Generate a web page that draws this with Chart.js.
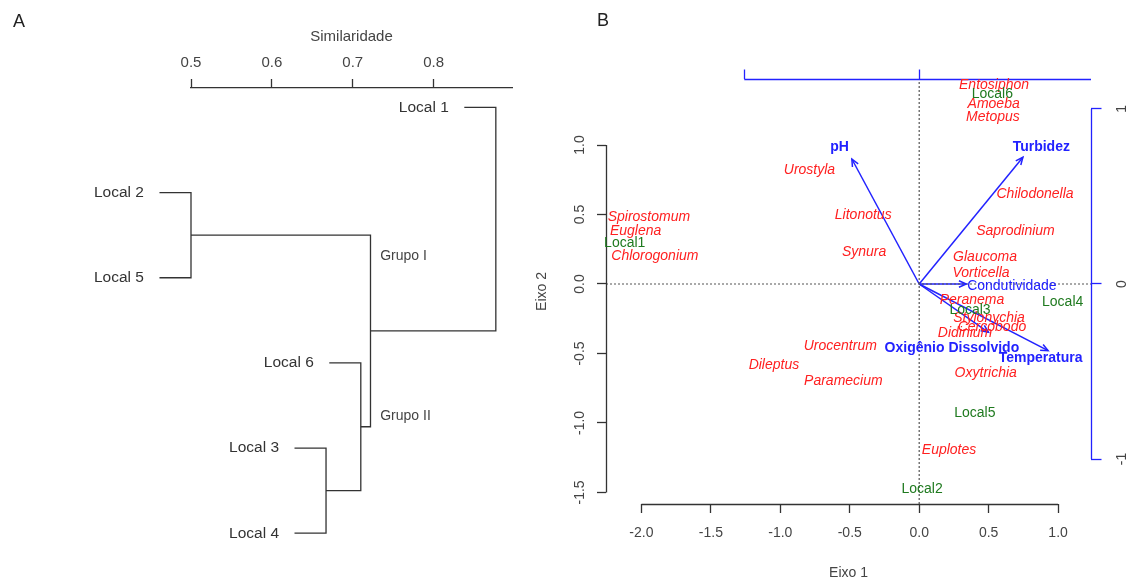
<!DOCTYPE html>
<html><head><meta charset="utf-8">
<script src="https://cdn.jsdelivr.net/npm/chart.js@4.4.1/dist/chart.umd.min.js"></script>
<style>
html,body{margin:0;padding:0;background:#fff;overflow:hidden}
#wrap{position:relative;width:1128px;height:583px;background:#fff}
canvas{position:absolute;top:0}
#ca{left:0}
#cb{left:520px}
</style></head><body>
<div id="wrap"><canvas id="ca" width="520" height="583"></canvas><canvas id="cb" width="608" height="583"></canvas></div>
<script>
// ================= Panel A : dendrogram data =================
const leafLabels = ['Local 1', 'Local 2', 'Local 5', 'Local 6', 'Local 3', 'Local 4'];
// merge table (R hclust style): negative = leaf (1-based), positive = earlier merge (1-based)
const mergeA = [-2, -5, -4, 1, -1];
const mergeB = [-3, -6, 2, 3, 4];
const mergeHeight = [0.500, 0.667, 0.710, 0.722, 0.877];
const leafHang = 0.039;
const simTicks = [0.5, 0.6, 0.7, 0.8];
const groupLabels = ['Grupo I', 'Grupo II'];
const groupX = [0.734, 0.734];
const groupY = [1.751, 3.631];

// ================= Panel B : CCA biplot data =================
const speciesNames = ['Entosiphon', 'Amoeba', 'Metopus', 'Urostyla', 'Chilodonella', 'Litonotus',
  'Saprodinium', 'Spirostomum', 'Euglena', 'Chlorogonium', 'Synura', 'Glaucoma', 'Vorticella',
  'Peranema', 'Stylonychia', 'Cercobodo', 'Didinium', 'Urocentrum', 'Dileptus', 'Paramecium',
  'Oxytrichia', 'Euplotes'];
const speciesX = [0.539, 0.536, 0.531, -0.790, 0.834, -0.403, 0.693, -1.946, -2.042, -1.903, -0.397,
  0.474, 0.445, 0.380, 0.503, 0.524, 0.330, -0.568, -1.046, -0.546, 0.479, 0.215];
const speciesY = [1.428, 1.294, 1.200, 0.821, 0.644, 0.495, 0.382, 0.480, 0.379, 0.202, 0.233,
  0.197, 0.081, -0.115, -0.245, -0.310, -0.353, -0.444, -0.583, -0.698, -0.643, -1.195];

const siteNames = ['Local1', 'Local2', 'Local3', 'Local4', 'Local5', 'Local6'];
const siteX = [-2.120, 0.021, 0.366, 1.033, 0.401, 0.527];
const siteY = [0.297, -1.478, -0.187, -0.127, -0.931, 1.366];

const envNames = ['pH', 'Turbidez', 'Condutividade', 'Oxigênio Dissolvido', 'Temperatura'];
const envX = [-0.385, 0.593, 0.269, 0.396, 0.737];
const envY = [0.714, 0.724, 0.000, -0.276, -0.381];
const envLabelX = [-0.455, 0.698, 0.530, 0.187, 0.694];
const envLabelY = [0.781, 0.781, -0.010, -0.367, -0.421];
const envBold = [true, true, false, true, true];

const axisTicksX = [-2.0, -1.5, -1.0, -0.5, 0.0, 0.5, 1.0];
const axisTicksY = [-1.5, -1.0, -0.5, 0.0, 0.5, 1.0];
const biplotTicks = [-1, 0, 1];

// ================= styling =================
const FONT = "'Liberation Sans', Arial, Helvetica, sans-serif";
Chart.defaults.font.family = FONT;
const INK = '#333333';
const TXT = '#444444';
const RED = '#ff2020';
const GREEN = '#1f7a1f';
const BLUE = '#2222ff';

// ---------- build dendrogram segments from merge table ----------
const nodeH = [], nodeY = [];
const leafStart = new Array(leafLabels.length);
const segs = [];
for (let i = 0; i < mergeHeight.length; i++) {
  const h = mergeHeight[i];
  const ends = [mergeA[i], mergeB[i]].map(c => {
    if (c < 0) { const k = -c - 1; leafStart[k] = h - leafHang; return { x: h - leafHang, y: k }; }
    return { x: nodeH[c - 1], y: nodeY[c - 1] };
  });
  segs.push([ends[0], { x: h, y: ends[0].y }, { x: h, y: ends[1].y }, ends[1]]);
  nodeH.push(h);
  nodeY.push((ends[0].y + ends[1].y) / 2);
}

const dendroText = {
  id: 'dendroText',
  afterDatasetsDraw(chart) {
    const { ctx, scales: { x, y } } = chart;
    ctx.save();
    ctx.fillStyle = INK;
    ctx.textBaseline = 'middle';
    ctx.textAlign = 'right';
    ctx.font = `15.5px ${FONT}`;
    leafLabels.forEach((lab, i) => {
      ctx.fillText(lab, x.getPixelForValue(leafStart[i]) - 15.5, y.getPixelForValue(i));
    });
    ctx.textAlign = 'left';
    ctx.fillStyle = TXT;
    ctx.font = `14px ${FONT}`;
    groupLabels.forEach((lab, i) => {
      ctx.fillText(lab, x.getPixelForValue(groupX[i]), y.getPixelForValue(groupY[i]));
    });
    ctx.fillStyle = '#222';
    ctx.font = `18px ${FONT}`;
    ctx.textAlign = 'center';
    ctx.fillText('A', 19, 22);
    ctx.restore();
  }
};

new Chart(document.getElementById('ca'), {
  type: 'scatter',
  data: {
    datasets: segs.map(s => ({
      data: s, showLine: true, borderColor: INK, borderWidth: 1.3,
      pointRadius: 0, pointHoverRadius: 0, tension: 0, clip: false, fill: false
    }))
  },
  options: {
    responsive: false, animation: false, events: [],
    layout: { padding: { left: 191, right: 8, top: 0, bottom: 33 } },
    plugins: { legend: { display: false }, tooltip: { enabled: false } },
    scales: {
      x: {
        type: 'linear', position: 'top', min: 0.5, max: 0.897,
        afterBuildTicks: s => { s.ticks = simTicks.map(v => ({ value: v })); },
        afterFit: s => { s.height = 88; },
        grid: { drawOnChartArea: false, drawTicks: true, tickLength: 9, tickColor: INK, tickWidth: 1.3 },
        border: { display: true, color: INK, width: 1.3 },
        ticks: { font: { size: 15 }, color: TXT, padding: 7, autoSkip: false, maxRotation: 0,
                 callback: v => Number(v).toFixed(1) },
        title: { display: true, text: 'Similaridade', font: { size: 15 }, color: TXT,
                 padding: { top: 28, bottom: 0 } }
      },
      y: { type: 'linear', display: false, reverse: true, min: -0.228, max: 5.197 }
    }
  },
  plugins: [dendroText]
});

// ================= Panel B =================
const K = 0.794;                       // biplot arrow scale relative to site/species scale
const xMin = -2.255, xMax = 1.237, yMin = -1.583, yMax = 1.475;

const biplotText = {
  id: 'biplotText',
  afterDatasetsDraw(chart) {
    const { ctx, chartArea: ca, scales } = chart;
    const { x, y, x2, y2 } = scales;
    ctx.save();
    // axis lines (R style: from first to last tick)
    ctx.lineWidth = 1.3;
    ctx.strokeStyle = INK;
    ctx.beginPath();
    ctx.moveTo(x.getPixelForValue(axisTicksX[0]), Math.round(ca.bottom) + 0.5);
    ctx.lineTo(x.getPixelForValue(axisTicksX[axisTicksX.length - 1]), Math.round(ca.bottom) + 0.5);
    ctx.moveTo(Math.round(ca.left) + 0.5, y.getPixelForValue(axisTicksY[0]));
    ctx.lineTo(Math.round(ca.left) + 0.5, y.getPixelForValue(axisTicksY[axisTicksY.length - 1]));
    ctx.stroke();
    ctx.strokeStyle = BLUE;
    ctx.beginPath();
    const tx0 = Math.max(biplotTicks[0], x2.min), tx1 = Math.min(biplotTicks[2], x2.max);
    ctx.moveTo(x2.getPixelForValue(tx0), Math.round(ca.top) + 0.5);
    ctx.lineTo(x2.getPixelForValue(tx1), Math.round(ca.top) + 0.5);
    ctx.moveTo(Math.round(ca.right) + 0.5, y2.getPixelForValue(biplotTicks[0]));
    ctx.lineTo(Math.round(ca.right) + 0.5, y2.getPixelForValue(biplotTicks[2]));
    ctx.stroke();

    // rotated tick labels for vertical axes
    ctx.fillStyle = TXT;
    ctx.font = `14px ${FONT}`;
    ctx.textAlign = 'center';
    ctx.textBaseline = 'middle';
    axisTicksY.forEach(v => {
      ctx.save();
      ctx.translate(ca.left - 26, y.getPixelForValue(v));
      ctx.rotate(-Math.PI / 2);
      ctx.fillText(v.toFixed(1), 0, 0);
      ctx.restore();
    });
    biplotTicks.forEach(v => {
      ctx.save();
      ctx.translate(ca.right + 31.5, y2.getPixelForValue(v));
      ctx.rotate(-Math.PI / 2);
      ctx.fillText(String(v), 0, 0);
      ctx.restore();
    });

    // arrow heads
    ctx.strokeStyle = BLUE;
    ctx.lineWidth = 1.5;
    chart.data.datasets.forEach((ds, di) => {
      if (ds.role !== 'arrow') return;
      const pts = chart.getDatasetMeta(di).data;
      const p0 = pts[0], p1 = pts[1];
      const ang = Math.atan2(p1.y - p0.y, p1.x - p0.x);
      const L = 8, a = Math.PI / 7.5;
      ctx.beginPath();
      ctx.moveTo(p1.x - L * Math.cos(ang - a), p1.y - L * Math.sin(ang - a));
      ctx.lineTo(p1.x, p1.y);
      ctx.lineTo(p1.x - L * Math.cos(ang + a), p1.y - L * Math.sin(ang + a));
      ctx.stroke();
    });

    // point labels
    chart.data.datasets.forEach((ds, di) => {
      if (!ds.labels) return;
      const pts = chart.getDatasetMeta(di).data;
      ctx.fillStyle = ds.textColor;
      ds.labels.forEach((lab, i) => {
        ctx.font = ds.fontFor(i);
        ctx.fillText(lab, pts[i].x, pts[i].y);
      });
    });

    ctx.fillStyle = '#222';
    ctx.font = `18px ${FONT}`;
    ctx.fillText('B', 83, 21);
    ctx.restore();
  }
};

const datasetsB = [
  { role: 'zero', data: [{ x: xMin, y: 0 }, { x: xMax, y: 0 }], showLine: true, borderColor: '#555',
    borderWidth: 1.2, borderDash: [2, 2], pointRadius: 0, clip: false },
  { role: 'zero', data: [{ x: 0, y: yMin }, { x: 0, y: yMax }], showLine: true, borderColor: '#555',
    borderWidth: 1.2, borderDash: [2, 2], pointRadius: 0, clip: false },
];
envNames.forEach((n, i) => {
  datasetsB.push({ role: 'arrow', data: [{ x: 0, y: 0 }, { x: envX[i], y: envY[i] }], xAxisID: 'x2', yAxisID: 'y2',
    showLine: true, borderColor: BLUE, borderWidth: 1.5, pointRadius: 0, clip: false });
});
datasetsB.push({
  data: speciesX.map((v, i) => ({ x: v, y: speciesY[i] })), pointRadius: 0, clip: false,
  labels: speciesNames, textColor: RED, fontFor: () => `italic 14px ${FONT}`
});
datasetsB.push({
  data: siteX.map((v, i) => ({ x: v, y: siteY[i] })), pointRadius: 0, clip: false,
  labels: siteNames, textColor: GREEN, fontFor: () => `14px ${FONT}`
});
datasetsB.push({
  data: envLabelX.map((v, i) => ({ x: v, y: envLabelY[i] })), xAxisID: 'x2', yAxisID: 'y2',
  pointRadius: 0, clip: false,
  labels: envNames, textColor: BLUE, fontFor: i => `${envBold[i] ? 'bold ' : ''}14px ${FONT}`
});

new Chart(document.getElementById('cb'), {
  type: 'scatter',
  data: { datasets: datasetsB },
  options: {
    responsive: false, animation: false, events: [],
    layout: { padding: 0 },
    plugins: { legend: { display: false }, tooltip: { enabled: false } },
    scales: {
      x: {
        type: 'linear', position: 'bottom', min: xMin, max: xMax,
        afterBuildTicks: s => { s.ticks = axisTicksX.map(v => ({ value: v })); },
        afterFit: s => { s.height = 79; },
        grid: { drawOnChartArea: false, tickLength: 9, tickColor: INK, tickWidth: 1.3 },
        border: { display: false },
        ticks: { font: { size: 14 }, color: TXT, padding: 12, autoSkip: false, maxRotation: 0,
                 callback: v => Number(v).toFixed(1) },
        title: { display: true, text: 'Eixo 1', font: { size: 14 }, color: TXT, padding: { top: 0, bottom: 1.3 } }
      },
      y: {
        type: 'linear', position: 'left', min: yMin, max: yMax,
        afterBuildTicks: s => { s.ticks = axisTicksY.map(v => ({ value: v })); },
        afterFit: s => { s.width = 86; },
        grid: { drawOnChartArea: false, tickLength: 9, tickColor: INK, tickWidth: 1.3 },
        border: { display: false },
        ticks: { display: false },
        title: { display: true, text: 'Eixo 2', font: { size: 14 }, color: TXT, padding: { top: 13.3, bottom: 0 } }
      },
      x2: {
        type: 'linear', position: 'top', min: xMin * K, max: xMax * K,
        afterBuildTicks: s => { s.ticks = biplotTicks.filter(v => v >= s.min && v <= s.max).map(v => ({ value: v })); },
        afterFit: s => { s.height = 79; },
        grid: { drawOnChartArea: false, tickLength: 9.5, tickColor: BLUE, tickWidth: 1.3 },
        border: { display: false },
        ticks: { display: false }
      },
      y2: {
        type: 'linear', position: 'right', min: yMin * K, max: yMax * K,
        afterBuildTicks: s => { s.ticks = biplotTicks.filter(v => v >= s.min && v <= s.max).map(v => ({ value: v })); },
        afterFit: s => { s.width = 37; },
        grid: { drawOnChartArea: false, tickLength: 10.5, tickColor: BLUE, tickWidth: 1.3 },
        border: { display: false },
        ticks: { display: false }
      }
    }
  },
  plugins: [biplotText]
});
</script>
</body></html>
